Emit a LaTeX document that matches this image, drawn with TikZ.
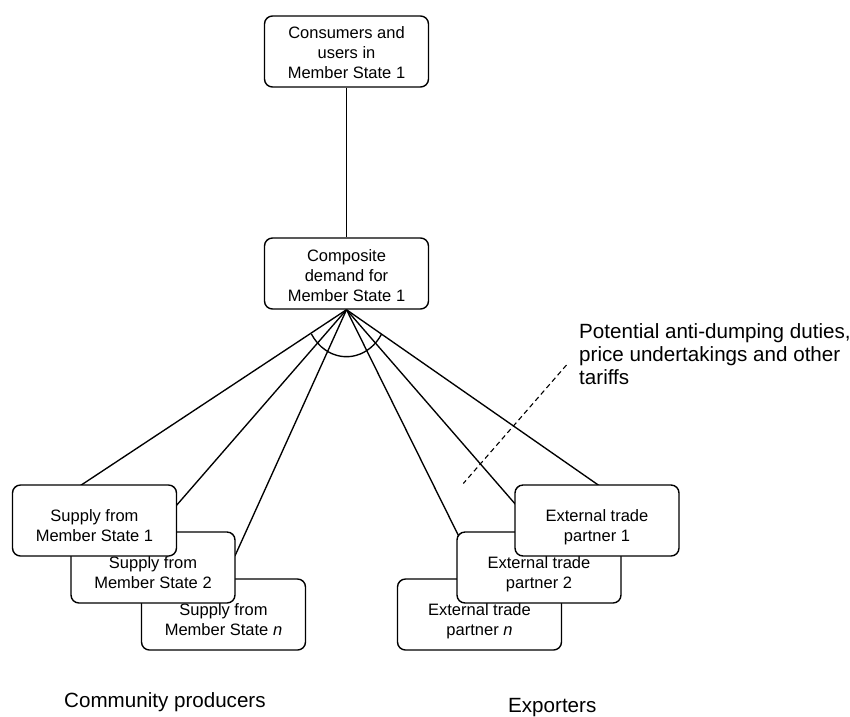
\documentclass[tikz,border=0pt]{standalone}
\usepackage{fontspec}
\setmainfont{Liberation Sans}
\usetikzlibrary{backgrounds}
\newcommand{\lowtext}[2]{\raisebox{-#1}[\dimexpr\height+#1\relax][\dimexpr\depth+#1\relax]{\begin{tabular}{@{}c@{}}#2\end{tabular}}}
\begin{document}
\begin{tikzpicture}[x=1pt,y=-1pt,
  box/.style={draw, line width=1.4pt, rounded corners=8pt, fill=white,
    minimum width=164pt, minimum height=71pt, inner sep=0pt,
    font=\fontsize{16.5}{20}\selectfont},
  conn/.style={line width=1.35pt},
  dashconn/.style={line width=1.1pt, dash pattern=on 5pt off 3.5pt},
  big/.style={font=\fontsize{20.6}{23}\selectfont, inner sep=0pt}]
\useasboundingbox (0,0) rectangle (850,716);
% boxes (back to front)
\node[box] (top) at (346.5,51.5) {\lowtext{3pt}{Consumers and\\users in\\Member State 1}};
\node[box] (comp) at (346.5,273.5) {\lowtext{3.5pt}{Composite\\demand for\\Member State 1}};
\node[box] (msn) at (223.5,614.5) {\lowtext{6.5pt}{Supply from\\Member State \textit{n}}};
\node[box] (ms2) at (153,567.5) {\lowtext{6.5pt}{Supply from\\Member State 2}};
\node[box] (ms1) at (94.5,520.5) {\lowtext{6.5pt}{Supply from\\Member State 1}};
\node[box] (etpn) at (479.5,614.5) {\lowtext{6.5pt}{External trade\\partner \textit{n}}};
\node[box] (etp2) at (539,567.5) {\lowtext{6.5pt}{External trade\\partner 2}};
\node[box] (etp1) at (597,520.5) {\lowtext{6.5pt}{External trade\\partner 1}};
% labels
\node[big, anchor=base west, align=left] (note) at (579,384)
  {Potential anti-dumping duties,\\price undertakings and other\\tariffs};
\node[big, anchor=base west] (cp) at (64,707) {Community producers};
\node[big, anchor=base west] (exp) at (508,712.5) {Exporters};
\coordinate (dtop) at (566.5,365);
\coordinate (dbot) at (463.3,483.5);
% connectors
\begin{scope}[on background layer]
\draw[conn] (top) -- (comp);
\draw[conn] (comp.south) -- ([xshift=64.5pt,yshift=-4pt]ms1.north west);
\draw[conn] (comp.south) -- ([xshift=-3pt,yshift=12.5pt]ms1.east);
\draw[conn] (comp.south) -- ([xshift=-0.8pt,yshift=11.5pt]ms2.east);
\draw[conn] (comp.south) -- ([xshift=4pt,yshift=-8pt]etp2.north west);
\draw[conn] (comp.south) -- ([xshift=3.5pt,yshift=13.5pt]etp1.west);
\draw[conn] (comp.south) -- ([xshift=6pt,yshift=-4pt]etp1.north);
\draw[conn] ([shift={(-31:41pt and 47pt)}]comp.south)
  arc[start angle=-31, end angle=-149, x radius=41pt, y radius=47pt];
\draw[dashconn] (dtop) -- (dbot);
\end{scope}
\end{tikzpicture}
\end{document}
